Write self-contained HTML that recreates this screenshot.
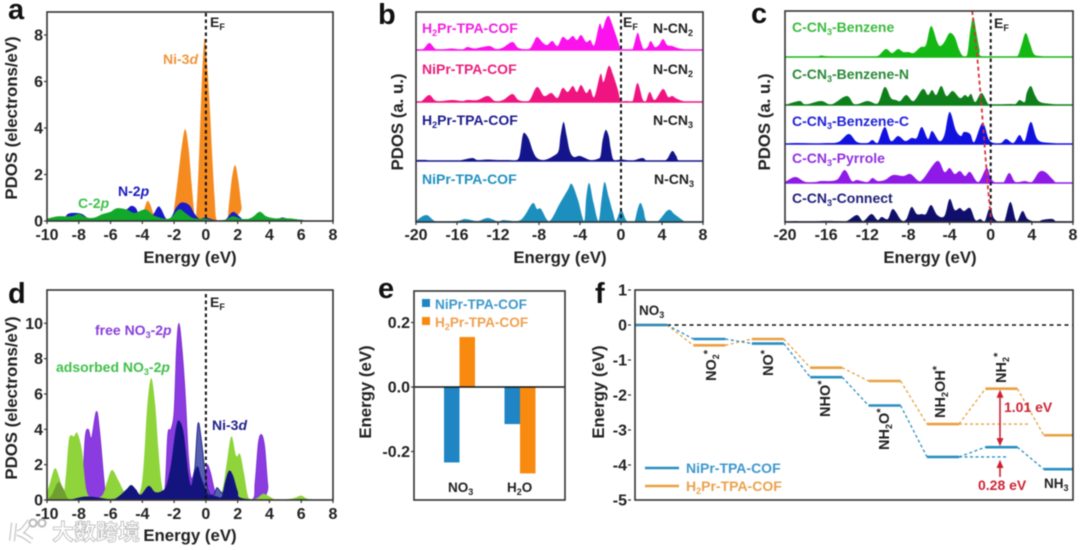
<!DOCTYPE html>
<html lang="en">
<head>
<meta charset="utf-8">
<title>PDOS and energy profile figure</title>
<style>
html,body{margin:0;padding:0;background:#fff;width:1080px;height:550px;overflow:hidden}
#fig{display:block;filter:blur(0.6px);font-family:"Liberation Sans","Noto Sans CJK SC",sans-serif;font-weight:bold}
.let{font-size:29px;fill:#111}
.ax{font-size:16.8px;fill:#222}
.lb{font-size:14px}
.sub{font-size:9px}
</style>
</head>
<body>
<svg id="fig" xmlns="http://www.w3.org/2000/svg" width="1080" height="550" viewBox="0 0 1080 550">
<g id="pa"></g>
<g id="pb"></g>
<g id="pc"></g>
<g id="pd"></g>
<g id="pe"></g>
<g id="pf"></g>

<g>
<text class="let" x="8" y="19">a</text>
<text class="ax" x="190" y="263" text-anchor="middle">Energy (eV)</text>
<text class="ax" transform="rotate(-90 17 118)" x="17" y="118" text-anchor="middle">PDOS (electrons/eV)</text>
<text class="lb" x="210" y="27" fill="#222">E<tspan class="sub" dy="3">F</tspan></text>
<text class="lb" x="163" y="64" fill="#f0953a">Ni-3<tspan font-style="italic">d</tspan></text>
<text class="lb" x="118" y="196" fill="#1a1ac0">N-2<tspan font-style="italic">p</tspan></text>
<text class="lb" x="78" y="208" fill="#3fc04a">C-2<tspan font-style="italic">p</tspan></text>
</g>

<g>
<text class="let" x="378" y="24">b</text>
<text class="ax" x="560" y="263" text-anchor="middle">Energy (eV)</text>
<text class="ax" transform="rotate(-90 403 122)" x="403" y="122" text-anchor="middle">PDOS (a. u.)</text>
<text class="lb" x="623" y="27" fill="#222">E<tspan class="sub" dy="3">F</tspan></text>
<text class="lb" x="422" y="33" fill="#f020e0">H<tspan class="sub" dy="3">2</tspan><tspan dy="-3">Pr-TPA-COF</tspan></text>
<text class="lb" x="422" y="74" fill="#e8207c">NiPr-TPA-COF</text>
<text class="lb" x="422" y="125" fill="#1c1c8c">H<tspan class="sub" dy="3">2</tspan><tspan dy="-3">Pr-TPA-COF</tspan></text>
<text class="lb" x="422" y="184" fill="#2090c0">NiPr-TPA-COF</text>
<text class="lb" x="653" y="33" fill="#222">N-CN<tspan class="sub" dy="3">2</tspan></text>
<text class="lb" x="653" y="74" fill="#222">N-CN<tspan class="sub" dy="3">2</tspan></text>
<text class="lb" x="653" y="125" fill="#222">N-CN<tspan class="sub" dy="3">3</tspan></text>
<text class="lb" x="654" y="184" fill="#222">N-CN<tspan class="sub" dy="3">3</tspan></text>
</g>

<g>
<text class="let" x="751" y="23">c</text>
<text class="ax" x="930" y="263" text-anchor="middle">Energy (eV)</text>
<text class="ax" transform="rotate(-90 770 122)" x="770" y="122" text-anchor="middle">PDOS (a. u.)</text>
<text class="lb" x="994" y="28" fill="#222">E<tspan class="sub" dy="3">F</tspan></text>
<text class="lb" x="792" y="32" fill="#3cba40">C-CN<tspan class="sub" dy="3">3</tspan><tspan dy="-3">-Benzene</tspan></text>
<text class="lb" x="792" y="79" fill="#2a8a38">C-CN<tspan class="sub" dy="3">3</tspan><tspan dy="-3">-Benzene-N</tspan></text>
<text class="lb" x="792" y="126" fill="#2222d8">C-CN<tspan class="sub" dy="3">3</tspan><tspan dy="-3">-Benzene-C</tspan></text>
<text class="lb" x="792" y="163" fill="#9030e0">C-CN<tspan class="sub" dy="3">3</tspan><tspan dy="-3">-Pyrrole</tspan></text>
<text class="lb" x="792" y="203" fill="#20207c">C-CN<tspan class="sub" dy="3">3</tspan><tspan dy="-3">-Connect</tspan></text>
</g>

<g>
<text class="let" x="8" y="303">d</text>
<text class="ax" x="190" y="541" text-anchor="middle">Energy (eV)</text>
<text class="ax" transform="rotate(-90 17 398)" x="17" y="398" text-anchor="middle">PDOS (electrons/eV)</text>
<text class="lb" x="210" y="307" fill="#222">E<tspan class="sub" dy="3">F</tspan></text>
<text class="lb" x="95" y="335" fill="#8a3fd8">free NO<tspan class="sub" dy="3">3</tspan><tspan dy="-3">-2</tspan><tspan font-style="italic">p</tspan></text>
<text class="lb" x="56" y="372" fill="#3fc04a">adsorbed NO<tspan class="sub" dy="3">3</tspan><tspan dy="-3">-2</tspan><tspan font-style="italic">p</tspan></text>
<text class="lb" x="212" y="430" fill="#20208c">Ni-3<tspan font-style="italic">d</tspan></text>
</g>

<g>
<path d="M14 523 L12 541 M30 521 C24 530 21 533 17 533 C24 534 28 539 32 541" fill="none" stroke="#c4c4c4" stroke-width="6"/>
<path d="M14 523 L12 541 M30 521 C24 530 21 533 17 533 C24 534 28 539 32 541" fill="none" stroke="#fff" stroke-width="3.6"/>
<circle cx="33" cy="523" r="3.6" fill="#fff" stroke="#bbb" stroke-width="2"/>
<circle cx="42" cy="523" r="3.6" fill="#fff" stroke="#bbb" stroke-width="2"/>
<text x="52" y="540" font-size="22" font-weight="700" fill="#fff" stroke="#b8b8b8" stroke-width="0.8" style="font-family:'Liberation Sans','Noto Sans CJK SC',sans-serif">大数跨境</text>
</g>

<g>
<text class="let" x="378" y="298">e</text>
<text class="ax" transform="rotate(-90 371 392)" x="371" y="392" text-anchor="middle">Energy (eV)</text>
<rect x="422" y="299" width="8" height="8" fill="#1f85c4"/>
<rect x="422" y="317" width="8" height="8" fill="#f98a10"/>
<text x="435" y="309" font-size="13.6" fill="#3d98cc">NiPr-TPA-COF</text>
<text x="435" y="327" font-size="13.6" fill="#f0a050">H<tspan class="sub" dy="3">2</tspan><tspan dy="-3">Pr-TPA-COF</tspan></text>
<text x="448" y="492" font-size="13.5" fill="#222">NO<tspan class="sub" dy="3">3</tspan></text>
<text x="507" y="492" font-size="13.5" fill="#222">H<tspan class="sub" dy="3">2</tspan><tspan dy="-3">O</tspan></text>
</g>

<g>
<text class="let" x="595" y="303">f</text>
<text class="ax" transform="rotate(-90 604 392)" x="604" y="392" text-anchor="middle">Energy (eV)</text>
<text x="639" y="315" font-size="13.5" fill="#222">NO<tspan class="sub" dy="3">3</tspan></text>
<text x="1044" y="488" font-size="13.5" fill="#222">NH<tspan class="sub" dy="3">3</tspan></text>
<text transform="rotate(-90 716 381)" x="716" y="381" font-size="14.5" fill="#222">NO<tspan class="sub" dy="3">2</tspan><tspan dy="-8" font-size="11">*</tspan></text>
<text transform="rotate(-90 773 376)" x="773" y="376" font-size="14.5" fill="#222">NO<tspan dy="-5" font-size="11">*</tspan></text>
<text transform="rotate(-90 830 417)" x="830" y="417" font-size="14.5" fill="#222">NHO<tspan dy="-5" font-size="11">*</tspan></text>
<text transform="rotate(-90 889 450)" x="889" y="450" font-size="14.5" fill="#222">NH<tspan class="sub" dy="3">2</tspan><tspan dy="-3">O</tspan><tspan dy="-5" font-size="11">*</tspan></text>
<text transform="rotate(-90 945 418)" x="945" y="418" font-size="14.5" fill="#222">NH<tspan class="sub" dy="3">2</tspan><tspan dy="-3">OH</tspan><tspan dy="-5" font-size="11">*</tspan></text>
<text transform="rotate(-90 1006 383)" x="1006" y="383" font-size="14.5" fill="#222">NH<tspan class="sub" dy="3">2</tspan><tspan dy="-8" font-size="11">*</tspan></text>
<text x="1004" y="412" font-size="14" fill="#cc2535">1.01 eV</text>
<text x="978" y="490" font-size="14" fill="#cc2535">0.28 eV</text>
<text x="686" y="473" font-size="14" fill="#3d98cc">NiPr-TPA-COF</text>
<text x="686" y="491" font-size="14" fill="#eaa24c">H<tspan class="sub" dy="3">2</tspan><tspan dy="-3">Pr-TPA-COF</tspan></text>
</g>
</svg>

<script>
// ---------- Panel a ----------
const aTicksX = [-10,-8,-6,-4,-2,0,2,4,6,8];
const aTicksY = [0,2,4,6,8];
const aNiE = [-10,-4.2,-3.95,-3.7,-3.5,-3.3,-3.1,-2.2,-1.95,-1.7,-1.5,-1.3,-1.1,-0.9,-0.72,-0.62,-0.45,-0.3,-0.15,-0.05,0.1,0.25,0.4,0.55,0.7,1.3,1.45,1.65,1.85,2.05,2.25,2.45,8];
const aNi  = [0,0,0.35,0.85,0.7,0.3,0,0,0.8,2.2,3.3,3.95,3.2,1.6,0.3,0.2,2.4,5.2,7.4,7.8,6.5,4.8,2.8,1,0,0,0.7,1.9,2.4,1.7,0.6,0,0];
const aNE  = [-10,-9,-8.7,-8.3,-7.8,-7.3,-6.5,-5.5,-5,-4.7,-4.4,-4.1,-3.5,-3.3,-3,-2.8,-2.5,-2.2,-1.9,-1.6,-1.3,-1,-0.7,-0.4,0,0.5,1,1.3,1.6,1.8,2.1,2.4,3,3.4,4,4.2,4.5,4.8,5.2,6,6.5,8];
const aN   = [0.05,0.1,0.3,0.35,0.3,0.1,0.15,0.45,0.5,0.65,0.55,0.15,0.2,0.3,0.62,0.5,0.1,0.15,0.55,0.78,0.78,0.65,0.3,0.1,0.15,0.05,0,0.1,0.35,0.38,0.2,0.05,0.05,0.2,0.1,0.12,0.08,0.15,0.1,0.05,0,0];
const aCE  = [-10,-9.3,-8.5,-8,-7.5,-7,-6.5,-6,-5.6,-5,-4.5,-3.8,-3.3,-2.6,-2.2,-1.7,-1.3,-0.9,-0.5,0,0.5,1.2,1.7,2.2,2.7,3,3.4,3.8,4.3,5,5.5,6,6.5,8];
const aC   = [0.1,0.2,0.2,0.3,0.15,0.15,0.3,0.4,0.55,0.5,0.35,0.5,0.25,0.1,0.15,0.5,0.35,0.15,0.1,0.1,0.03,0.05,0.2,0.1,0.1,0.2,0.4,0.2,0.12,0.12,0.1,0.05,0,0];

// ---------- Panel b ----------
const bTicksX = [-20,-16,-12,-8,-4,0,4,8];
const bMagE = [-20,-19.3,-18.7,-18.1,-17.5,-16.5,-15.5,-15,-14.3,-13.5,-12.8,-12.2,-11.5,-10.6,-10,-9,-8.6,-8.2,-7.6,-7.2,-6.7,-6.2,-5.7,-5.2,-4.7,-4.3,-3.9,-3.4,-3,-2.6,-2.1,-1.8,-1.5,-1.2,-0.9,-0.5,-0.2,0,0.6,1.1,1.6,1.9,2.2,2.6,2.9,3.3,3.7,4.1,4.5,5,5.5,6,6.5,8];
const bMag  = [0,1,7,1,0.5,1.5,0.5,3,1.5,3,4,1,2.5,8,2,1,6,13,7,5,9,4,13,10,14,10,15,8,10,5,26,21,30,34,27,15,6,0,0.5,0,17,9,1,3,9,3,5,11,5,4,2,1,0,0];
const bPinkE = [-20,-19.5,-18.7,-18,-16.5,-15.5,-15,-14,-13,-12.3,-11.5,-10.6,-10,-9,-8.2,-7.5,-6.8,-6.2,-5.7,-5.2,-4.7,-4.3,-3.9,-3.4,-3,-2.6,-2,-1.7,-1.2,-0.8,-0.3,0,0.5,1.1,1.6,2.1,2.4,2.8,3.3,4.1,4.6,5,5.5,6.5,8];
const bPink  = [0,0.5,7,1,2,1,2,2,6,1,2,8,2,1,15,6,9,4,14,10,16,10,17,9,13,5,28,20,36,28,12,0,1,0,19,3,0,10,2,13,5,6,3,0,0];
const bNavyE = [-20,-19,-18.5,-16,-15.5,-14.5,-14,-13,-12,-11,-10.3,-9.9,-9.6,-9.4,-9,-8.6,-8.2,-7.5,-6.6,-6.1,-5.9,-5.6,-5.3,-5,-4.6,-4,-3,-2.3,-2,-1.8,-1.5,-1.2,-1,-0.7,0,0.5,1,2.1,2.6,4,4.5,5,5.4,5.8,8];
const bNavy  = [1,1,0,0,1,3,1,1.5,1,1,0.5,5,25,28,22,10,3,1,5,10,25,39,25,10,4,5,1,2,5,20,31,25,12,1,1.5,1,0,3,0,0,2,10,5,0,0];
const bCyanE = [-20,-19,-18,-16,-15.2,-14,-13,-12,-11.5,-10.5,-9.8,-9.3,-8.6,-8.2,-7.8,-7,-6,-5.2,-4.8,-4.2,-3.6,-3.4,-3.1,-2.7,-2.2,-1.9,-1.6,-1.2,-0.8,-0.5,0,0.5,0.9,1.3,1.6,1.9,2.2,2.5,3.5,4.6,5.2,6,6.5,8];
const bCyan  = [1,7,0.5,1,3,1,4,0.5,2,1,2,8,19,13,13,1,18,32,38,22,1,24,39,20,1,22,40,25,10,1,12,2,0,0,12,19,12,1,0,12,8,2,0,0];

// ---------- Panel c ----------
const cTicksX = [-20,-16,-12,-8,-4,0,4,8];
const cBenzE = [-20,-17,-16.5,-15.5,-12,-11,-10.2,-9.6,-9,-8.5,-8,-7.5,-6.8,-6.3,-5.8,-5.2,-4.9,-4.5,-4,-3.5,-3.1,-2.7,-2.3,-2,-1.7,-1.4,-1.1,-0.8,2,2.6,3,3.4,3.8,4.2,4.8,6,8];
const cBenz  = [0,0.5,1.5,0.5,0.5,1,8,4,8,5,5,4,10,12,31,15,11,15,24,20,8,1,2,25,40,25,8,0.5,0.5,1,12,24,14,3,1,0,0];
const cBnE = [-20,-18.6,-18,-16.5,-15.5,-14,-13.2,-12,-11,-10.3,-9.7,-9.2,-8.8,-8.2,-7.5,-6.6,-6.1,-5.7,-5.3,-4.8,-4.3,-3.7,-3,-2.5,-2.2,-1.9,-1.5,-0.9,-0.3,0,1.8,2.4,2.8,3.3,3.5,3.9,4.3,4.8,6,7,8];
const cBn  = [0,4,0.5,4,0.5,9,0.5,4,1.5,18,7,5,4,10,4,16,10,15,10,19,9,14,7,10,8,11,3,12,2,0,1,1,5,3,12,19,10,3,1,0,0];
const cBcE = [-20,-19,-17,-16,-14.8,-13.8,-13,-12,-11.5,-11,-10.3,-9.7,-9,-8.3,-7.7,-7.2,-6.7,-6.1,-5.7,-5,-4.5,-4,-3.4,-2.9,-2.6,-2,-1.6,-0.8,-0.2,0.3,1,1.5,2.2,2.8,3.3,3.9,4.6,6,7,8];
const cBc  = [0,1,0.5,1,2,10,2,1,4,1,17,3,8,3,6,6,17,5,13,3,9,32,14,8,12,10,2,21,5,1,1,5,1,9,3,22,4,1,0,0];
const cPyE = [-20,-19,-18,-17,-16.5,-15,-14.2,-13.5,-13,-12,-11.5,-11,-10.3,-9.5,-8.5,-7.8,-7,-6.5,-5.2,-4.5,-4,-3.5,-3,-2.5,-2,-1.2,-0.4,0,0.5,1.2,1.8,2.4,3.3,4,4.7,5.3,6,6.5,8];
const cPy  = [1,6,1,1,2,3,13,2,3,1,5,2,3,8,7,9,2,5,22,11,15,9,12,7,11,1,15,5,0,0,10,1,2,1,11,11,4,0,0];
const cCoE = [-20,-19,-18,-16.5,-15,-14,-13,-12.4,-11.6,-11,-10.6,-10,-9.5,-8.7,-8.2,-7.7,-7.2,-6.7,-6.3,-5.8,-5.2,-4.5,-4,-3.5,-3,-2.6,-2,-1.5,-1,-0.6,-0.1,0.3,0.8,1.3,1.9,2.4,2.6,3.1,3.6,4.5,5,6,6.5,8];
const cCo  = [0,1,0,1,1,1,7,1,8,2,5,3,13,2,3,15,8,8,8,17,7,6,23,12,14,11,14,2,3,0,14,4,0,0,20,3,1,11,3,0,2,3,0,0];
const cShiftE = [-1.8,-1.3,-0.9,-0.6,-0.3,0.05];
const cShiftV = [1,0.78,0.55,0.37,0.18,0];

// ---------- Panel d ----------
const dTicksX = [-10,-8,-6,-4,-2,0,2,4,6,8];
const dTicksY = [0,2,4,6,8,10];
const dAdsE = [-10,-9.8,-9.5,-9.2,-8.95,-8.8,-8.6,-8.3,-8.1,-7.8,-7.5,-7,-6.5,-6.2,-5.9,-5.5,-5,-4.4,-4.1,-3.9,-3.7,-3.45,-3.2,-3,-2.8,-2.6,-2.2,-1.8,-1.4,-1,0.5,1,1.3,1.6,1.9,2.15,2.4,2.7,3.2,3.6,4,4.5,5.5,6,6.5,8];
const dAds  = [0.4,1,1.8,1.2,0.4,1.5,3.5,3.6,3.8,2.8,0.5,0.1,0.3,1.1,1.7,1.1,0.3,0.3,0.6,2.2,5.2,6.9,5.5,3,1,0.4,0.5,2,1,0.3,0.1,0.5,2,3.6,2.5,2.6,1.5,0.1,0.1,0.35,0.2,0,0.1,0.25,0.05,0];
const dFreeE = [-10,-8,-7.8,-7.6,-7.4,-7.2,-6.9,-6.7,-6.4,-6.2,-5,-3,-2.6,-2.4,-2.2,-2,-1.85,-1.7,-1.5,-1.3,-1.1,-0.9,-0.6,-0.4,-0.2,0,0.1,0.3,0.6,1,1.5,2.9,3.1,3.3,3.5,3.7,3.9,4.1,8];
const dFree  = [0,0,0.3,3.5,4,3.5,5,4,1,0,0.1,0.2,0.5,3.7,4,5,8.5,10,8.5,6,2.5,1.2,2,1.5,0.5,1.5,2,1.5,0.4,0.1,0,0,1,3.2,3.7,3,0.8,0,0];
const dOliveE = [-10,-9.7,-9.3,-9,-8.7,-8.4];
const dOlive  = [0,0.3,1,0.7,0.1,0];
const dNiLightE = [-1,-0.9,-0.7,-0.5,-0.3,0,0.2,0.5,0.7,1,1.2];
const dNiLight  = [0.8,0.8,1.8,4.3,3.5,1.2,0.4,0.3,0.7,0.4,0.6];
const dNiE = [-10,-8.7,-7.5,-6,-5.5,-5,-4.7,-4.4,-4.1,-3.6,-3.2,-2.8,-2.5,-2.2,-1.9,-1.7,-1.4,-1.1,-0.9,-0.7,-0.5,-0.3,0,0.2,0.5,0.7,1,1.2,1.45,1.7,2,2.3,4.5,6,7,8];
const dNi  = [0,0,0.2,0.05,0.2,0.6,0.85,0.6,0.3,0.8,0.45,0.5,0.8,2,4,4.5,3.8,1.5,0.8,1.6,1.9,1.3,0.6,0.3,0.25,0.2,0.2,1,1.65,1.4,0.5,0.1,0,0.05,0,0];

// ---------- Panel e ----------
const eTicksY = [0.2,0,-0.2];
const eNiValues = [-0.234,-0.115];
const eH2Values = [0.155,-0.268];

// ---------- Panel f ----------
const fTicksY = [1,0,-1,-2,-3,-4,-5];
const fStepNames = ['NO3','NO2*','NO*','NHO*','NH2O*','NH2OH*','NH2*','NH3'];
const fNiLevels = [0,-0.4,-0.53,-1.49,-2.3,-3.77,-3.49,-4.12];
const fH2Levels = [0,-0.58,-0.4,-1.22,-1.6,-2.83,-1.82,-3.15];

// ---------- Helpers ----------
const NS = 'http://www.w3.org/2000/svg';
function add(parent, tag, attrs, name){
  const el = document.createElementNS(NS, tag);
  for (const k in attrs) el.setAttribute(k, attrs[k]);
  
  
  parent.appendChild(el);
  return el;
}
function linear(d0,d1,r0,r1){ return v => r0 + (v-d0)*(r1-r0)/(d1-d0); }
function areaD(xs, ys, sx, sy, base){
  const p = xs.map((x,i)=>[sx(x), Math.min(sy(ys[i]), base)]);
  let d = 'M'+p[0][0].toFixed(1)+' '+base+' L'+p[0][0].toFixed(1)+' '+p[0][1].toFixed(1);
  for (let i=0;i<p.length-1;i++){
    const a=p[Math.max(i-1,0)], b=p[i], c=p[i+1], e=p[Math.min(i+2,p.length-1)];
    const c1x=b[0]+(c[0]-a[0])/6, c1y=Math.min(b[1]+(c[1]-a[1])/6,base);
    const c2x=c[0]-(e[0]-b[0])/6, c2y=Math.min(c[1]-(e[1]-b[1])/6,base);
    d+=' C'+c1x.toFixed(1)+' '+c1y.toFixed(1)+' '+c2x.toFixed(1)+' '+c2y.toFixed(1)+' '+c[0].toFixed(1)+' '+c[1].toFixed(1);
  }
  return d+' L'+p[p.length-1][0].toFixed(1)+' '+base+' Z';
}
function area(g, xs, ys, sx, sy, base, fill, name, extra){
  const attrs = Object.assign({d:areaD(xs,ys,sx,sy,base), fill:fill}, extra||{});
  return add(g,'path',attrs,name);
}
function frame(g,x0,y0,x1,y1,name){
  add(g,'rect',{x:x0,y:y0,width:x1-x0,height:y1-y0,fill:'none',stroke:'#333',"stroke-width":1.6},name);
}
function xAxis(g,ticks,sx,yAxis,yText,name){
  ticks.forEach(t=>{
    add(g,'line',{x1:sx(t),x2:sx(t),y1:yAxis,y2:yAxis+3,stroke:'#333',"stroke-width":1.2},name+'-tick');
    const lab = add(g,'text',{x:sx(t),y:yText,"text-anchor":'middle',"font-size":16,fill:'#222'},name+'-tick-label');
    lab.textContent = String(t);
  });
}
function yAxis(g,ticks,sy,xAxisPos,fmt,name,fs){
  ticks.forEach(t=>{
    add(g,'line',{x1:xAxisPos-3,x2:xAxisPos,y1:sy(t),y2:sy(t),stroke:'#333',"stroke-width":1.2},name+'-tick');
    const lab = add(g,'text',{x:xAxisPos-4,y:sy(t)+5.5,"text-anchor":'end',"font-size":fs||16,fill:'#222'},name+'-tick-label');
    lab.textContent = fmt(t);
  });
}
function fermi(g,x,y0,y1,name){
  add(g,'line',{x1:x,x2:x,y1:y0,y2:y1,stroke:'#111',"stroke-width":2,"stroke-dasharray":'3.5 3'},name);
}
function baseLine(g,x0,x1,y,color,name){
  add(g,'line',{x1:x0,x2:x1,y1:y,y2:y,stroke:color,"stroke-width":1.6},name);
}

// ---------- Draw panel a ----------
(function(){
  const g=document.getElementById('pa');
  const sx=linear(-10,8,47,333), sy=linear(0,8,221,35), base=221;
  area(g,aNiE,aNi,sx,sy,base,'#f58a1f','ni-3d-area');
  area(g,aNE,aN,sx,sy,base,'#1a1ac8','n-2p-area');
  area(g,aCE,aC,sx,sy,base,'#12a82a','c-2p-area');
  fermi(g,sx(0),13,220,'fermi-line-a');
  frame(g,47,12,333,221,'plot-frame-a');
  xAxis(g,aTicksX,sx,221,240,'x-axis-a');
  yAxis(g,aTicksY,sy,47,t=>String(t),'y-axis-a');
})();

// ---------- Draw panel b ----------
(function(){
  const g=document.getElementById('pb');
  const sx=linear(-20,8,416,703);
  const rows=[[bMagE,bMag,50,'#fb12ec','h2pr-n-cn2-area'],[bPinkE,bPink,102,'#f01480','nipr-n-cn2-area'],[bNavyE,bNavy,161,'#14148c','h2pr-n-cn3-area'],[bCyanE,bCyan,222,'#1c8fbf','nipr-n-cn3-area']];
  rows.forEach(r=>{
    const sy=linear(0,1,r[2],r[2]-1);
    area(g,r[0],r[1],sx,sy,r[2],r[3],r[4]);
    baseLine(g,416,703,r[2],r[3],r[4]+'-baseline');
  });
  fermi(g,sx(0),13,221,'fermi-line-b');
  frame(g,416,12,703,222,'plot-frame-b');
  xAxis(g,bTicksX,sx,222,240,'x-axis-b');
})();

// ---------- Draw panel c ----------
(function(){
  const g=document.getElementById('pc');
  const sx=linear(-20,8,785,1073);
  const rows=[[cBenzE,cBenz,57,'#14b814','benzene-area'],[cBnE,cBn,105,'#0f7f1c','benzene-n-area'],[cBcE,cBc,144,'#1212e0','benzene-c-area'],[cPyE,cPy,183,'#8f1ae8','pyrrole-area'],[cCoE,cCo,222,'#10106c','connect-area']];
  rows.forEach(r=>{
    const sy=linear(0,1,r[2],r[2]-1);
    area(g,r[0],r[1],sx,sy,r[2],r[3],r[4]);
    baseLine(g,785,1073,r[2],r[3],r[4]+'-baseline');
  });
  fermi(g,sx(0),13,221,'fermi-line-c');
  const vy=linear(0,1,222,11);
  const pts=cShiftE.map((e,i)=>sx(e).toFixed(1)+','+vy(cShiftV[i]).toFixed(1)).join(' ');
  add(g,'polyline',{points:pts,fill:'none',stroke:'#d8303c',"stroke-width":1.8,"stroke-dasharray":'4 3'},'energy-shift-line');
  frame(g,785,11,1073,222,'plot-frame-c');
  xAxis(g,cTicksX,sx,222,240,'x-axis-c');
})();

// ---------- Draw panel d ----------
(function(){
  const g=document.getElementById('pd');
  const sx=linear(-10,8,47,333), sy=linear(0,10,500,323.3), base=500;
  area(g,dFreeE,dFree,sx,sy,base,'#8a3ce0','free-no3-area',{stroke:'#7a2cd0',"stroke-width":0.8});
  area(g,dAdsE,dAds,sx,sy,base,'#8ed43a','adsorbed-no3-area');
  area(g,dOliveE,dOlive,sx,sy,base,'#6f9f30','overlap-area');
  area(g,dNiLightE,dNiLight,sx,sy,base,'#5660b0','ni-3d-upper-area',{stroke:'#14147e',"stroke-width":0.8});
  area(g,dNiE,dNi,sx,sy,base,'#14147e','ni-3d-area-d');
  fermi(g,sx(0),294,499,'fermi-line-d');
  frame(g,47,290,333,500,'plot-frame-d');
  xAxis(g,dTicksX,sx,500,519,'x-axis-d');
  yAxis(g,dTicksY,sy,47,t=>String(t),'y-axis-d');
})();

// ---------- Draw panel e ----------
(function(){
  const g=document.getElementById('pe');
  const sy=linear(0,0.2,387,322.5);
  const groupX=i=>459.5+i*60.5, w=15.5;
  eNiValues.forEach((v,i)=>{
    add(g,'rect',{x:groupX(i)-w,y:Math.min(sy(v),sy(0)),width:w,height:Math.abs(sy(v)-sy(0)),fill:'#1f85c4'},'bar-nipr');
  });
  eH2Values.forEach((v,i)=>{
    add(g,'rect',{x:groupX(i),y:Math.min(sy(v),sy(0)),width:w,height:Math.abs(sy(v)-sy(0)),fill:'#f98a10'},'bar-h2pr');
  });
  add(g,'line',{x1:414,x2:565,y1:sy(0),y2:sy(0),stroke:'#111',"stroke-width":1.4},'zero-line');
  frame(g,414,291,565,500,'plot-frame-e');
  yAxis(g,eTicksY,sy,414,t=>t.toFixed(1),'y-axis-e');
})();

// ---------- Draw panel f ----------
(function(){
  const g=document.getElementById('pf');
  const sy=linear(0,-5,325,500);
  const stepX=i=>635+i*58.4, w=32;
  function series(levels,color,name){
    levels.forEach((v,i)=>{
      add(g,'line',{x1:stepX(i),x2:Math.min(stepX(i)+w,1073),y1:sy(v),y2:sy(v),stroke:color,"stroke-width":2.6},name+'-level');
      if(i<levels.length-1){
        add(g,'line',{x1:stepX(i)+w,x2:stepX(i+1),y1:sy(v),y2:sy(levels[i+1]),stroke:color,"stroke-width":1.3,"stroke-dasharray":'3 2.5'},name+'-connector');
      }
    });
    add(g,'line',{x1:stepX(5)+w,x2:name==='nipr'?1008:1030,y1:sy(levels[5]),y2:sy(levels[5]),stroke:color,"stroke-width":1.3,"stroke-dasharray":'3 2.5'},name+'-reference-level');
  }
  add(g,'line',{x1:stepX(0)+w,x2:1073,y1:sy(0),y2:sy(0),stroke:'#111',"stroke-width":1.4,"stroke-dasharray":'4 3.5'},'zero-dashed-line');
  series(fH2Levels,'#e9a040','h2pr');
  series(fNiLevels,'#2a8fc0','nipr');
  const ax=1000, red='#cc2030';
  add(g,'line',{x1:ax,x2:ax,y1:sy(fH2Levels[6])+3,y2:sy(fNiLevels[6])-3,stroke:red,"stroke-width":1.6},'barrier-arrow-h2pr');
  add(g,'path',{d:'M'+ax+' '+(sy(fH2Levels[6])+1)+' l-3.5 8 h7 Z',fill:red},'barrier-arrow-head-up');
  add(g,'path',{d:'M'+ax+' '+(sy(fNiLevels[6])-1)+' l-3.5 -8 h7 Z',fill:red},'barrier-arrow-head-down');
  add(g,'line',{x1:ax,x2:ax,y1:sy(fNiLevels[5])+4,y2:477,stroke:red,"stroke-width":1.6},'barrier-arrow-nipr');
  add(g,'path',{d:'M'+ax+' '+(sy(fNiLevels[5])+3)+' l-3.5 8 h7 Z',fill:red},'barrier-arrow-head-nipr');
  frame(g,635,290,1073,500,'plot-frame-f');
  yAxis(g,fTicksY,sy,631,t=>String(t),'y-axis-f');
  add(g,'line',{x1:645,x2:679,y1:468,y2:468,stroke:'#2a8fc0',"stroke-width":2.6},'legend-line-nipr');
  add(g,'line',{x1:645,x2:679,y1:486,y2:486,stroke:'#e9a040',"stroke-width":2.6},'legend-line-h2pr');
})();
</script>
</body>
</html>
